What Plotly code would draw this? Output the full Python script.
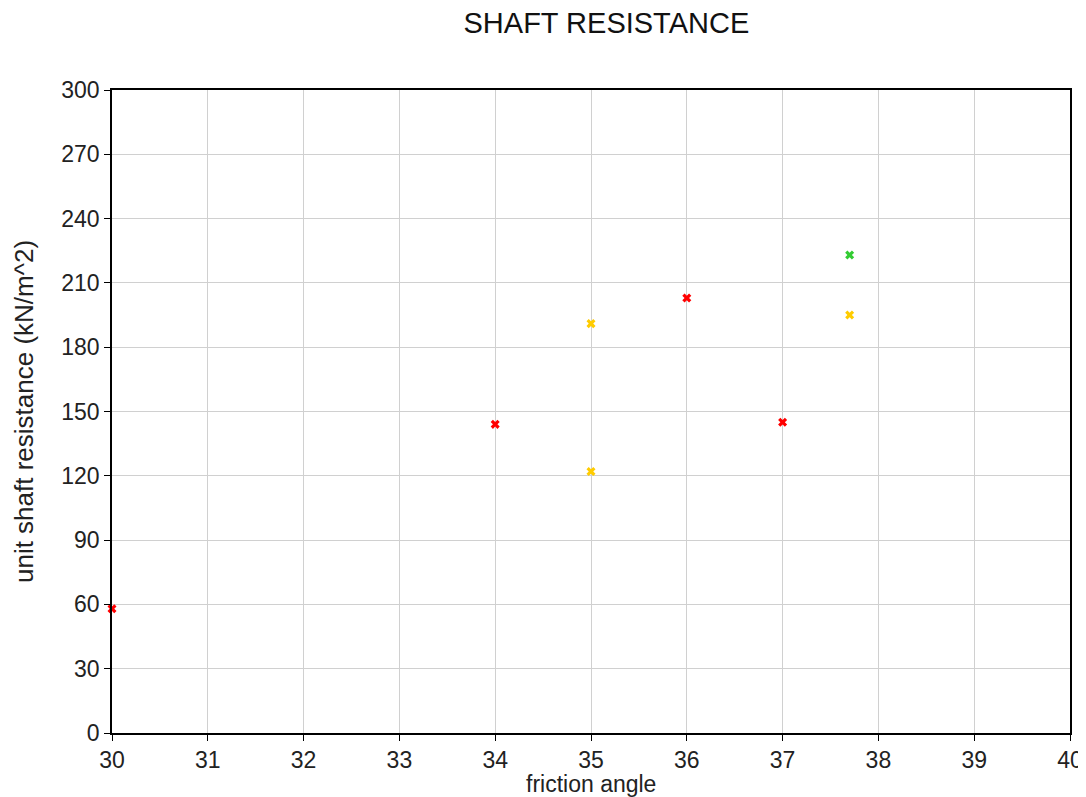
import plotly.graph_objects as go

red_x = [30, 34, 36, 37]
red_y = [58, 144, 203, 145]
yellow_x = [35, 35, 37.7]
yellow_y = [191, 122, 195]
green_x = [37.7]
green_y = [223]

fig = go.Figure()
for xs, ys, c in [(red_x, red_y, "#ff0000"), (yellow_x, yellow_y, "#ffcc00"), (green_x, green_y, "#33cc33")]:
    fig.add_trace(go.Scatter(x=xs, y=ys, mode="markers", cliponaxis=False,
                             marker=dict(symbol="x", size=8, color=c, line=dict(width=0)),
                             showlegend=False))

axis_common = dict(showline=True, linecolor="black", linewidth=1.5, mirror=True,
                   showgrid=True, gridcolor="#d0d0d0", gridwidth=1,
                   ticks="outside", ticklen=6, tickcolor="black", zeroline=False,
                   tickfont=dict(size=23, color="#222"))
fig.update_layout(
    width=1086, height=797,
    paper_bgcolor="white", plot_bgcolor="white",
    font=dict(family="Liberation Sans, Arial, sans-serif", color="#222"),
    title=dict(text="SHAFT RESISTANCE", x=0.551, xanchor="center", y=0.981, yanchor="middle",
               font=dict(size=29, color="#111")),
    margin=dict(l=104, r=24, t=82, b=72),
    xaxis=dict(range=[30, 40], dtick=1, **axis_common),
    yaxis=dict(range=[0, 300], dtick=30, title=dict(text="unit shaft resistance (kN/m^2)", font=dict(size=26), standoff=20), **axis_common),
    annotations=[dict(text="friction angle", xref="paper", yref="paper", x=0.5, y=0,
                      xanchor="center", yanchor="middle", yshift=-51, showarrow=False,
                      font=dict(size=23, color="#222"))],
)
fig.write_html("out.html")
